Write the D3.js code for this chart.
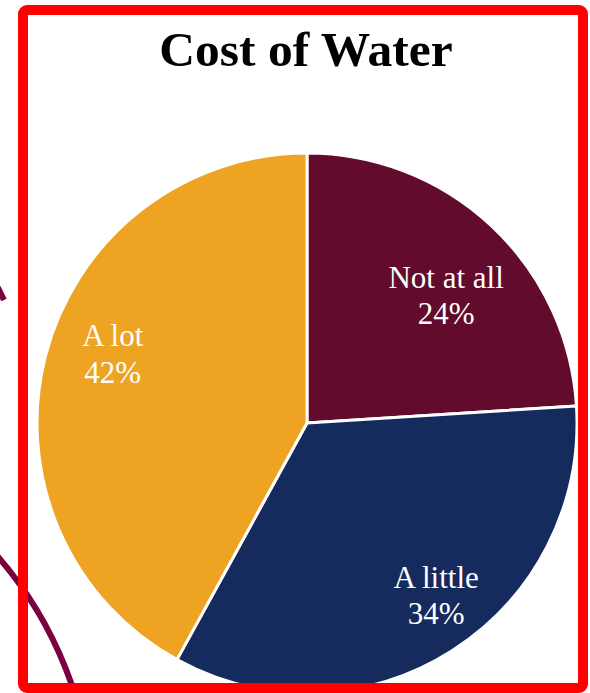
<!DOCTYPE html>
<html>
<head>
<meta charset="utf-8">
<script src="https://cdn.jsdelivr.net/npm/d3@7"></script>
<style>
  html, body { margin: 0; padding: 0; background: #fff; }
  svg { display: block; }
</style>
</head>
<body>
<div id="chart"></div>
<script>
// data
const categories = ["Not at all", "A little", "A lot"];
const shares = [24, 34, 42];
const sliceColors = ["#620b2c", "#152b5d", "#eea323"];
const chartTitle = "Cost of Water";

const width = 590, height = 693;
const cx = 307, cy = 423, radius = 270;

const svg = d3.select("#chart").append("svg")
    .attr("width", width)
    .attr("height", height);

// decorative maroon arcs behind the frame
const deco = svg.append("g").attr("fill", "none").attr("stroke", "#7b0041").attr("stroke-width", 6);
deco.append("circle").attr("cx", -297).attr("cy", 812).attr("r", 390);
deco.append("line").attr("x1", -4).attr("y1", 284).attr("x2", 4).attr("y2", 300);

// title
svg.append("text")
    .attr("x", 306)
    .attr("y", 66)
    .attr("text-anchor", "middle")
    .style("font-family", "'Liberation Serif', 'Times New Roman', serif")
    .style("font-weight", "bold")
    .style("font-size", "49.5px")
    .text(chartTitle);

// pie
const pie = d3.pie().sort(null).value(d => d.value);
const arc = d3.arc().innerRadius(0).outerRadius(radius);
const labelArc = d3.arc().innerRadius(radius * 0.72).outerRadius(radius * 0.72);

const slices = pie(categories.map((c, i) => ({ name: c, value: shares[i], color: sliceColors[i] })));

const g = svg.append("g").attr("transform", `translate(${cx},${cy})`);

g.selectAll("path")
    .data(slices)
    .join("path")
    .attr("d", arc)
    .attr("fill", d => d.data.color)
    .attr("stroke", "#fff")
    .attr("stroke-width", 3)
    .attr("stroke-linejoin", "round");

// label nudges (Excel best-fit placement drifts off the centroid)
const nudge = [[6, 15], [25, 9], [-6, -20]];

const labels = g.selectAll("text.lbl")
    .data(slices)
    .join("text")
    .attr("class", "lbl")
    .attr("text-anchor", "middle")
    .attr("fill", "#fff")
    .style("font-family", "'Liberation Serif', 'Times New Roman', serif")
    .style("font-size", "31px")
    .attr("transform", (d, i) => {
        const [x, y] = labelArc.centroid(d);
        return `translate(${x + nudge[i][0]},${y + nudge[i][1]})`;
    });

labels.append("tspan").attr("x", 0).attr("y", -8.5).text(d => d.data.name);
labels.append("tspan").attr("x", 0).attr("y", 28).text(d => d.data.value + "%");

// red frame on top
svg.append("rect")
    .attr("x", 23)
    .attr("y", 10)
    .attr("width", 560)
    .attr("height", 678)
    .attr("rx", 4)
    .attr("fill", "none")
    .attr("stroke", "#ff0000")
    .attr("stroke-width", 10);
</script>
</body>
</html>
